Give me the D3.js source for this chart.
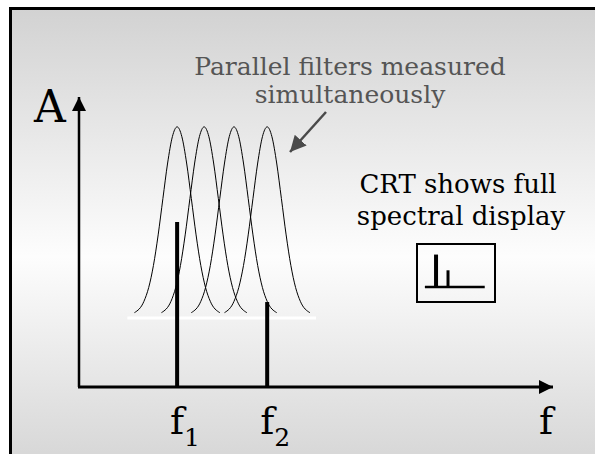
<!DOCTYPE html>
<html>
<head>
<meta charset="utf-8">
<script src="https://cdn.jsdelivr.net/npm/d3@7"></script>
<style>
  body { margin: 0; background: #fff; }
  svg { display: block; }
  text { font-family: "DejaVu Serif", serif; }
</style>
</head>
<body>
<svg width="595" height="454"></svg>
<script>
// frequencies of the two input signals (arbitrary units, 0-100 along the f axis)
var signalFreqs = [20.7, 39.7];
var signalAmps = [56.9, 29.3];
var signalLabels = ["1", "2"];

// centres of the parallel filters
var filterCenters = [20.7, 26.4, 32.7, 39.7];
var filterBase = 24.8;
var filterPeak = 89.7;
// one filter's outline: offset from centre, relative height
var filterShape = [[-9, 0.013], [-7, 0.073], [-6, 0.146], [-5, 0.263], [-4, 0.426], [-3, 0.619],
    [-2, 0.808], [-1, 0.948], [0, 1], [1, 0.948], [2, 0.808], [3, 0.619], [4, 0.426],
    [5, 0.263], [6, 0.146], [7, 0.073], [9, 0.013]];

var svg = d3.select('svg');

var defs = svg.append('defs');
var grad = defs.append('linearGradient')
    .attr('id', 'bg')
    .attr('x1', 0).attr('y1', 0).attr('x2', 0).attr('y2', 1);
grad.append('stop').attr('offset', 0).attr('stop-color', '#d2d2d2');
grad.append('stop').attr('offset', 0.54).attr('stop-color', '#fdfdfd');
grad.append('stop').attr('offset', 1).attr('stop-color', '#d5d5d5');

svg.append('rect')
    .attr('x', 10.5).attr('y', 8.5)
    .attr('width', 590).attr('height', 460)
    .attr('fill', 'url(#bg)')
    .attr('stroke', '#000')
    .attr('stroke-width', 3);

var x = d3.scaleLinear().domain([0, 100]).range([79, 553]);
var y = d3.scaleLinear().domain([0, 100]).range([387, 97]);

// filters
var line = d3.line()
    .x(function(d){ return d[0]; })
    .y(function(d){ return d[1]; })
    .curve(d3.curveMonotoneX);

svg.selectAll('.filter')
    .data(filterCenters)
    .enter()
    .append('path')
    .attr('class', 'filter')
    .attr('fill', 'none')
    .attr('stroke', '#000')
    .attr('stroke-width', 1)
    .attr('d', function(c){
        return line(filterShape.map(function(p){
            return [x(c + p[0]), y(filterBase + p[1] * (filterPeak - filterBase))];
        }));
    });

// white base line under the filters
svg.append('line')
    .attr('x1', x(filterCenters[0] - 10.5))
    .attr('x2', x(filterCenters[3] + 10.3))
    .attr('y1', y(filterBase) + 3)
    .attr('y2', y(filterBase) + 3)
    .attr('stroke', '#fff')
    .attr('stroke-width', 3);

// signal lines
svg.selectAll('.signal')
    .data(signalFreqs)
    .enter()
    .append('line')
    .attr('class', 'signal')
    .attr('x1', function(d){ return x(d); })
    .attr('x2', function(d){ return x(d); })
    .attr('y1', y(0))
    .attr('y2', function(d, i){ return y(signalAmps[i]); })
    .attr('stroke', '#000')
    .attr('stroke-width', 4);

// axes with arrows
defs.append('marker')
    .attr('id', 'arr')
    .attr('viewBox', '0 0 10 10')
    .attr('refX', 10).attr('refY', 5)
    .attr('markerWidth', 14).attr('markerHeight', 14)
    .attr('markerUnits', 'userSpaceOnUse')
    .attr('orient', 'auto')
    .append('path')
    .attr('d', 'M0,0L10,5L0,10Z')
    .attr('fill', '#000');

svg.append('line')
    .attr('x1', x(0)).attr('y1', y(0))
    .attr('x2', x(0)).attr('y2', y(100))
    .attr('stroke', '#000').attr('stroke-width', 2.5)
    .attr('marker-end', 'url(#arr)');

svg.append('line')
    .attr('x1', x(0) - 1).attr('y1', y(0))
    .attr('x2', x(100)).attr('y2', y(0))
    .attr('stroke', '#000').attr('stroke-width', 3)
    .attr('marker-end', 'url(#arr)');

svg.append('text')
    .text('A')
    .attr('x', 50).attr('y', 122)
    .attr('font-size', 44)
    .style('text-anchor', 'middle');

svg.append('text')
    .text('f')
    .attr('x', x(100) - 7).attr('y', 434)
    .attr('font-size', 38)
    .style('text-anchor', 'middle');

signalFreqs.forEach(function(f, i){
    svg.append('text')
        .text('f')
        .attr('x', x(f)).attr('y', 434)
        .attr('font-size', 38)
        .style('text-anchor', 'middle');
    svg.append('text')
        .text(signalLabels[i])
        .attr('x', x(f) + 7).attr('y', 446)
        .attr('font-size', 25);
});

// annotation
svg.append('text')
    .text('Parallel filters measured')
    .attr('x', 350).attr('y', 75)
    .attr('font-size', 25)
    .attr('fill', '#555')
    .style('text-anchor', 'middle');
svg.append('text')
    .text('simultaneously')
    .attr('x', 350).attr('y', 103)
    .attr('font-size', 25)
    .attr('fill', '#555')
    .style('text-anchor', 'middle');

defs.append('marker')
    .attr('id', 'garr')
    .attr('viewBox', '0 0 10 10')
    .attr('refX', 10).attr('refY', 5)
    .attr('markerWidth', 16).attr('markerHeight', 16)
    .attr('markerUnits', 'userSpaceOnUse')
    .attr('orient', 'auto')
    .append('path')
    .attr('d', 'M0,0L10,5L0,10Z')
    .attr('fill', '#4a4a4a');

svg.append('line')
    .attr('x1', 326).attr('y1', 112)
    .attr('x2', 290).attr('y2', 152)
    .attr('stroke', '#4a4a4a').attr('stroke-width', 2.5)
    .attr('marker-end', 'url(#garr)');

// CRT note and small display
svg.append('text')
    .text('CRT shows full')
    .attr('x', 458).attr('y', 193)
    .attr('font-size', 26)
    .style('text-anchor', 'middle');
svg.append('text')
    .text('spectral display')
    .attr('x', 461).attr('y', 225)
    .attr('font-size', 26)
    .style('text-anchor', 'middle');

svg.append('rect')
    .attr('x', 417).attr('y', 244)
    .attr('width', 78).attr('height', 58)
    .attr('fill', 'none')
    .attr('stroke', '#000')
    .attr('stroke-width', 2);

var mx = d3.scaleLinear().domain([0, 100]).range([423, 486]);
var my = d3.scaleLinear().domain([0, 100]).range([287, 230]);

svg.append('line')
    .attr('x1', mx(3)).attr('x2', mx(98))
    .attr('y1', my(0)).attr('y2', my(0))
    .attr('stroke', '#000').attr('stroke-width', 2.5);

svg.selectAll('.mini')
    .data(signalFreqs)
    .enter()
    .append('line')
    .attr('class', 'mini')
    .attr('x1', function(d){ return mx(d); })
    .attr('x2', function(d){ return mx(d); })
    .attr('y1', my(0))
    .attr('y2', function(d, i){ return my(signalAmps[i]); })
    .attr('stroke', '#000')
    .attr('stroke-width', function(d, i){ return i == 0 ? 4 : 3; });
</script>
</body>
</html>
